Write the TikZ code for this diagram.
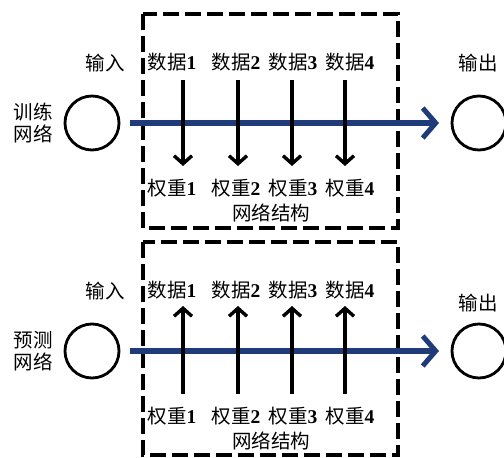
\documentclass[tikz,border=0pt]{standalone}
\usepackage{fontspec}
\newfontfamily\cjk{Noto Sans CJK SC}
\newfontfamily\numf{Liberation Serif}
\usetikzlibrary{arrows.meta}
\definecolor{navy}{HTML}{1F3B7A}
\tikzset{
  lbl/.style={font=\cjk\fontsize{19.5}{22}\selectfont, inner sep=0pt},
  dbox/.style={draw=black, line width=3.2pt, dash pattern=on 16pt off 6pt},
  circ/.style={draw=black, line width=2.8pt, circle, minimum size=54pt, inner sep=0pt},
  mainarrow/.style={draw=navy, line width=6pt, -{Straight Barb[length=13pt,width=30pt,line width=5pt]}},
  warrow/.style={draw=black, line width=3.4pt, -{Straight Barb[length=8pt,width=18pt,line width=3.4pt]}}
}
\newcommand{\dnum}[1]{{\numf\bfseries #1}}
\begin{document}
\begin{tikzpicture}[x=1pt,y=-1pt]
\useasboundingbox (0,0) rectangle (504,458);
% ---------- top panel ----------
\draw[dbox] (143,14) rectangle (398,228);
\node[circ] (inA) at (92,123) {};
\node[circ] (outA) at (479,123) {};
\node[lbl] (inlA) at (105,63) {输入};
\node[lbl] (outlA) at (478,63) {输出};
\node[lbl, align=center] (netA) at (33,123) {训练\\网络};
\coordinate (sA) at (130,123);
\coordinate (eA) at (439,123);
\draw[mainarrow] (sA) -- (eA);
\foreach \i/\x/\lx in {1/183/172, 2/238/236, 3/292/293, 4/345/350}{
  \node[lbl] (dA\i) at (\lx,62) {数据\dnum{\i}};
  \node[lbl] (wA\i) at (\lx,188) {权重\dnum{\i}};
  \coordinate (aA\i) at (\x,80);
  \coordinate (bA\i) at (\x,166);
  \draw[warrow] (aA\i) -- (bA\i);
}
\node[lbl] (stA) at (271,213) {网络结构};
% ---------- bottom panel ----------
\draw[dbox] (143,242) rectangle (398,455);
\node[circ] (inB) at (92,351) {};
\node[circ] (outB) at (479,351) {};
\node[lbl] (inlB) at (105,291) {输入};
\node[lbl] (outlB) at (478,303) {输出};
\node[lbl, align=center] (netB) at (33,351) {预测\\网络};
\coordinate (sB) at (130,351);
\coordinate (eB) at (439,351);
\draw[mainarrow] (sB) -- (eB);
\foreach \i/\x/\lx in {1/183/172, 2/238/236, 3/292/293, 4/345/350}{
  \node[lbl] (dB\i) at (\lx,290) {数据\dnum{\i}};
  \node[lbl] (wB\i) at (\lx,416) {权重\dnum{\i}};
  \coordinate (aB\i) at (\x,394);
  \coordinate (bB\i) at (\x,306);
  \draw[warrow] (aB\i) -- (bB\i);
}
\node[lbl] (stB) at (271,441) {网络结构};
\end{tikzpicture}
\end{document}
